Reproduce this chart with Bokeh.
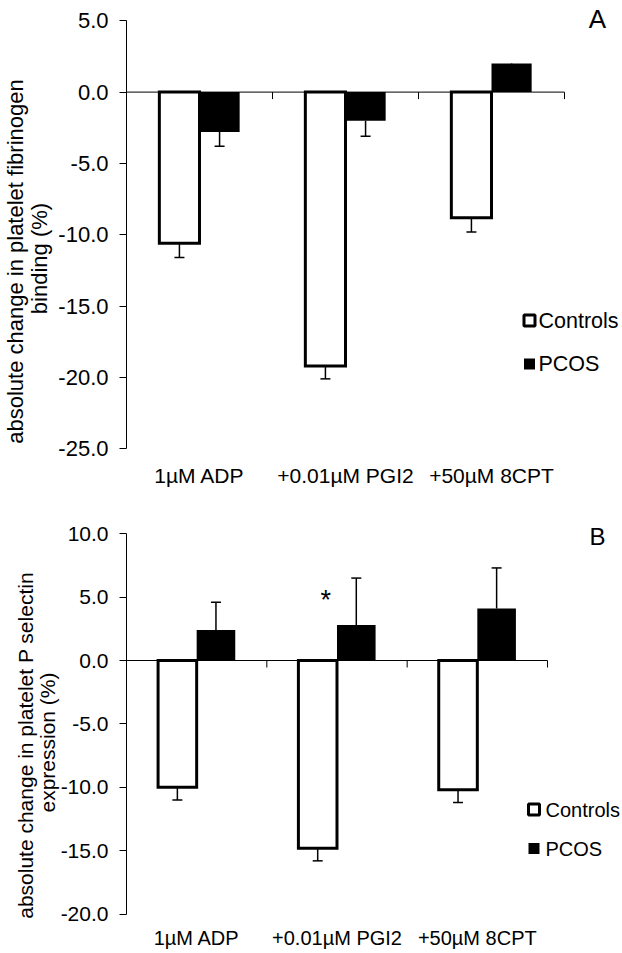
import numpy as np
from bokeh.plotting import figure
from bokeh.models import Range1d, FixedTicker, PrintfTickFormatter, Label
from bokeh.layouts import column
from bokeh.embed import file_html
from bokeh.resources import INLINE

# ---------------- data ----------------
categories = ["1µM ADP", "+0.01µM PGI2", "+50µM 8CPT"]
series_names = ["Controls", "PCOS"]

# Panel A: absolute change in platelet fibrinogen binding (%)
fib_controls = [-10.6, -19.2, -8.8]
fib_controls_err = [1.0, 0.9, 1.0]
fib_pcos = [-2.8, -2.0, 2.0]
fib_pcos_err = [1.0, 1.1, 1.0]

# Panel B: absolute change in platelet P selectin expression (%)
psel_controls = [-10.0, -14.8, -10.2]
psel_controls_err = [1.0, 1.0, 1.0]
psel_pcos = [2.4, 2.8, 4.1]
psel_pcos_err = [2.2, 3.7, 3.2]

fib_ticks = [-25, -20, -15, -10, -5, 0, 5]
psel_ticks = [-20, -15, -10, -5, 0, 5, 10]

fib_title = ["absolute change in  platelet fibrinogen", "binding (%)"]
psel_title = ["absolute change in  platelet P selectin", "expression (%)"]

sig_label = "*"
sig_category = "+0.01µM PGI2"

# ---------------- style / layout ----------------
FONT = "Liberation Sans"
PAGE_W = 622
BAR_W = 0.275
AXIS_X = 126       # page px of the value axis


def make_panel(ctrl, ctrl_err, pcos, pcos_err, ctrl_sign, pcos_sign, ticks,
               title_lines, letter, cfg, sig=None):
    fig_top, h = cfg["fig_top"], cfg["height"]
    pxu, zy, pyu = cfg["px_per_cat"], cfg["zero_y"], cfg["px_per_unit"]

    def dx(px):
        return 0.5 + (px - AXIS_X) / pxu

    def dy(py):
        return (zy - py) / pyu

    n = len(categories)
    p = figure(width=PAGE_W, height=h, output_backend="svg", toolbar_location=None,
               x_range=Range1d(dx(0), dx(PAGE_W)),
               y_range=Range1d(dy(fig_top + h), dy(fig_top)),
               min_border=0, min_border_left=0, min_border_right=0,
               min_border_top=0, min_border_bottom=0)
    p.outline_line_color = None
    p.background_fill_color = "white"
    p.border_fill_color = "white"
    p.xgrid.visible = False
    p.ygrid.visible = False

    # value axis (fixed inside the frame so that outer texts are not clipped)
    ya = p.yaxis[0]
    ya.fixed_location = 0.5
    ya.bounds = (ticks[0], ticks[-1])
    ya.ticker = FixedTicker(ticks=ticks)
    ya.formatter = PrintfTickFormatter(format="%.1f")
    ya.major_tick_out = 7
    ya.major_tick_in = 0
    ya.minor_tick_line_color = None
    ya.major_label_standoff = 11
    ya.axis_line_color = "black"
    ya.major_tick_line_color = "black"
    ya.major_label_text_font = FONT
    ya.major_label_text_font_size = f"{cfg['tick_fs']}px"
    ya.major_label_text_color = "black"

    # category axis (labels only)
    xs = [i + 1 for i in range(n)]
    xa = p.xaxis[0]
    xa.fixed_location = ticks[0]
    xa.ticker = FixedTicker(ticks=xs)
    xa.major_label_overrides = {x: c for x, c in zip(xs, categories)}
    xa.axis_line_color = None
    xa.major_tick_line_color = None
    xa.minor_tick_line_color = None
    xa.major_tick_out = 0
    xa.major_tick_in = 0
    xa.major_label_standoff = cfg["xlab_standoff"]
    xa.major_label_text_font = FONT
    xa.major_label_text_font_size = f"{cfg['xlab_fs']}px"
    xa.major_label_text_color = "black"

    xc = [x - BAR_W / 2 for x in xs]
    xp = [x + BAR_W / 2 for x in xs]

    # bars
    p.vbar(x=xc, top=ctrl, bottom=0, width=BAR_W, fill_color="white",
           line_color="black", line_width=3, line_join="miter")
    p.vbar(x=xp, top=pcos, bottom=0, width=BAR_W, fill_color="black",
           line_color=None)

    # horizontal category axis at zero with separator ticks
    tick_len = 7 / pyu
    p.segment(x0=[0.5], y0=[0], x1=[n + 0.5], y1=[0], line_color="black", line_width=1)
    seps = [i + 1.5 for i in range(n)]
    p.segment(x0=seps, y0=[0] * n, x1=seps, y1=[-tick_len] * n,
              line_color="black", line_width=1)

    # error bars
    for xx, vals, errs, sgn in ((xc, ctrl, ctrl_err, ctrl_sign), (xp, pcos, pcos_err, pcos_sign)):
        ends = [v + sgn * e for v, e in zip(vals, errs)]
        p.segment(x0=xx, y0=vals, x1=xx, y1=ends, line_color="black", line_width=1.5)
        p.scatter(x=xx, y=ends, marker="dash", size=10, line_color="black", line_width=1.5)

    # y-axis title (two centred lines)
    for (px, py), txt in zip(cfg["title_pos"], title_lines):
        p.add_layout(Label(x=dx(px), y=dy(py), text=txt, angle=np.pi / 2,
                           text_align="center", text_baseline="middle",
                           text_font=FONT, text_font_size=f"{cfg['title_fs']}px",
                           text_color="black"))

    # panel letter
    lx, ly = cfg["letter_pos"]
    p.add_layout(Label(x=dx(lx), y=dy(ly), text=letter, text_align="center",
                       text_baseline="middle", text_font=FONT,
                       text_font_size=f"{cfg['letter_fs']}px", text_color="black"))

    # legend
    sqx, txx, (y1, y2) = cfg["legend_sq_x"], cfg["legend_txt_x"], cfg["legend_y"]
    p.scatter(x=[dx(sqx)], y=[dy(y1)], marker="square", size=11, fill_color="white",
              line_color="black", line_width=3)
    p.scatter(x=[dx(sqx)], y=[dy(y2)], marker="square", size=11, fill_color="black",
              line_color=None)
    for yy, name in zip((y1, y2), series_names):
        p.add_layout(Label(x=dx(txx), y=dy(yy), text=name, text_align="left",
                           text_baseline="middle", text_font=FONT,
                           text_font_size=f"{cfg['legend_fs']}px", text_color="black"))

    # significance mark
    if sig is not None:
        ci = categories.index(sig_category) + 1
        p.add_layout(Label(x=ci - 0.08, y=dy(sig), text=sig_label, text_align="center",
                           text_baseline="middle", text_font=FONT,
                           text_font_size="27px", text_color="black"))
    return p


cfg_a = dict(fig_top=0, height=500, px_per_cat=146.0, zero_y=91.6, px_per_unit=14.267,
             tick_fs=22, xlab_fs=21, xlab_standoff=15, title_fs=22, letter_fs=26,
             legend_fs=21.5, title_pos=[(15, 258), (39, 258)], letter_pos=(597, 18),
             legend_sq_x=529, legend_txt_x=538, legend_y=(320, 363.5))

cfg_b = dict(fig_top=500, height=453, px_per_cat=140.33, zero_y=660.0, px_per_unit=12.68,
             tick_fs=21, xlab_fs=20, xlab_standoff=13, title_fs=21, letter_fs=24,
             legend_fs=20, title_pos=[(25, 742), (47, 742)], letter_pos=(597, 536),
             legend_sq_x=533.5, legend_txt_x=545, legend_y=(809, 848))

pA = make_panel(fib_controls, fib_controls_err, fib_pcos, fib_pcos_err, -1, -1,
                fib_ticks, fib_title, "A", cfg_a)
pB = make_panel(psel_controls, psel_controls_err, psel_pcos, psel_pcos_err, -1, 1,
                psel_ticks, psel_title, "B", cfg_b, sig=599)

layout = column(pA, pB)
open("out.html", "w").write(file_html(layout, INLINE))
